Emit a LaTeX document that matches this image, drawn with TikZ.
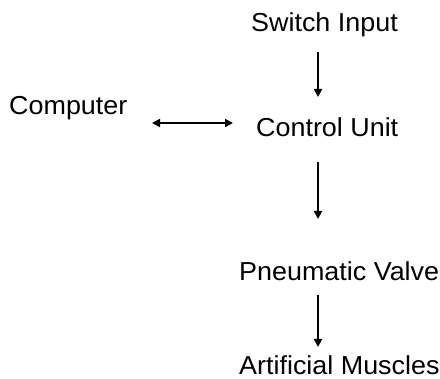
\documentclass[tikz,border=0pt]{standalone}
\usepackage{fontspec}
\setmainfont{Liberation Sans}[FakeStretch=1.035]
\usetikzlibrary{arrows.meta}
\begin{document}
\begin{tikzpicture}[x=1pt,y=-1pt,
  lbl/.style={anchor=base west,inner sep=0pt,font=\fontsize{26}{30}\selectfont},
  conn/.style={line width=2pt,-{Triangle[length=8pt,width=8pt]}},
  biconn/.style={line width=2pt,{Triangle[length=8pt,width=8pt]}-{Triangle[length=8pt,width=8pt]}}]
\useasboundingbox[fill=white] (0,0) rectangle (440,379);
\node[lbl] (sw) at (251,32) {Switch Input};
\node[lbl] (pc) at (9,115) {Computer};
\node[lbl] (cu) at (256,137) {Control Unit};
\node[lbl] (pv) at (239,281) {Pneumatic Valve};
\node[lbl] (am) at (239,375) {Artificial Muscles};
\coordinate (a1s) at (318,52);
\coordinate (a1e) at (318,97);
\coordinate (a2s) at (318,162);
\coordinate (a2e) at (318,219);
\coordinate (a3s) at (318,295);
\coordinate (a3e) at (318,347);
\coordinate (bl) at (152,123);
\coordinate (br) at (233,123);
\draw[conn] (a1s) -- (a1e);
\draw[conn] (a2s) -- (a2e);
\draw[conn] (a3s) -- (a3e);
\draw[biconn] (bl) -- (br);
\end{tikzpicture}
\end{document}
